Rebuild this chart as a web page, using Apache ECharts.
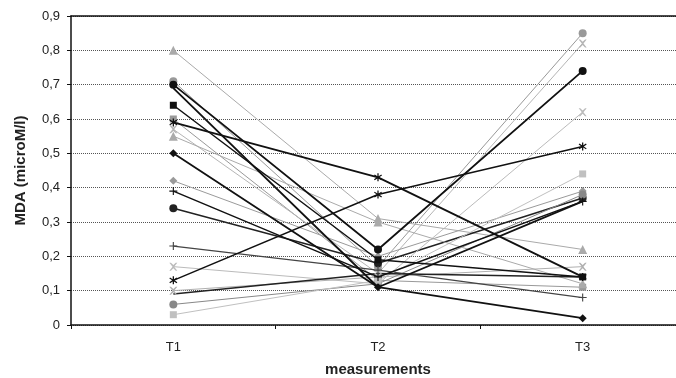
<!DOCTYPE html>
<html><head><meta charset="utf-8">
<script src="https://cdn.jsdelivr.net/npm/echarts@6/dist/echarts.min.js"></script>
<style>html,body{margin:0;padding:0;background:#fff}#c{width:676px;height:378px}</style>
</head><body><div id="c"></div>
<script>
const categories = ['T1', 'T2', 'T3'];
const yTicks = ['0', '0,1', '0,2', '0,3', '0,4', '0,5', '0,6', '0,7', '0,8', '0,9'];
const s01 = [0.80, 0.31, 0.22];
const s02 = [0.71, 0.17, 0.85];
const s03 = [0.70, 0.22, 0.74];
const s04 = [0.64, 0.19, 0.14];
const s05 = [0.60, 0.13, 0.11];
const s06 = [0.59, 0.43, 0.14];
const s07 = [0.57, 0.15, 0.82];
const s08 = [0.50, 0.11, 0.02];
const s09 = [0.42, 0.20, 0.39];
const s10 = [0.39, 0.14, 0.36];
const s11 = [0.34, 0.18, 0.37];
const s12 = [0.23, 0.16, 0.08];
const s13 = [0.17, 0.12, 0.62];
const s14 = [0.13, 0.38, 0.52];
const s15 = [0.10, 0.14, 0.17];
const s16 = [0.06, 0.12, 0.38];
const s17 = [0.03, 0.13, 0.44];
const s18 = [0.55, 0.30, 0.12];
const s19 = [0.09, 0.15, 0.14];
const s20 = [0.69, 0.11, 0.36];

const defs = [
  [s01, '#aaaaaa', 'triangle', 1],
  [s02, '#999999', 'circle', 1],
  [s03, '#111111', 'circle', 1.8],
  [s04, '#111111', 'rect', 1.5],
  [s05, '#999999', 'rect', 1],
  [s06, '#111111', 'star', 1.8],
  [s07, '#b5b5b5', 'x', 1],
  [s08, '#111111', 'diamond', 1.8],
  [s09, '#9a9a9a', 'diamond', 1],
  [s10, '#111111', 'plus', 1.5],
  [s11, '#222222', 'circle', 1.5],
  [s12, '#444444', 'plus', 1.2],
  [s13, '#bbbbbb', 'x', 1],
  [s14, '#111111', 'star', 1.5],
  [s15, '#b0b0b0', 'x', 1],
  [s16, '#888888', 'circle', 1],
  [s17, '#c0c0c0', 'rect', 1],
  [s18, '#aaaaaa', 'triangle', 1],
  [s19, '#222222', 'none', 1.5],
  [s20, '#111111', 'none', 1.8]
];

const paths = {
  x: 'path://M0,0L2,0L5,3L8,0L10,0L6,5L10,10L8,10L5,7L2,10L0,10L4,5Z',
  plus: 'path://M4.3,0H5.7V4.3H10V5.7H5.7V10H4.3V5.7H0V4.3H4.3Z',
  star: 'path://M4.3,0H5.7V3.6L8.6,1.4L9.4,2.6L6.3,5L9.4,7.4L8.6,8.6L5.7,6.4V10H4.3V6.4L1.4,8.6L0.6,7.4L3.7,5L0.6,2.6L1.4,1.4L4.3,3.6Z'
};

const series = defs.map((d, i) => ({
  type: 'line',
  data: d[0],
  symbol: paths[d[2]] || d[2],
  symbolSize: d[2] === 'rect' ? 7 : (d[2] === 'triangle' ? 9 : 8),
  showSymbol: d[2] !== 'none',
  lineStyle: { color: d[1], width: d[3] },
  itemStyle: { color: d[1], borderWidth: 0 },
  z: 2 + (d[1] === '#111111' ? 1 : 0),
  animation: false
}));

const chart = echarts.init(document.getElementById('c'));
chart.setOption({
  backgroundColor: '#ffffff',
  animation: false,
  grid: { left: 71, top: 16, width: 614, height: 309, containLabel: false, outerBoundsMode: 'none' },
  xAxis: [{
    type: 'category', data: categories, boundaryGap: true,
    axisLine: { lineStyle: { color: '#111', width: 1.5 } },
    axisTick: { show: true, length: 4, lineStyle: { color: '#111' } },
    axisLabel: { color: '#222', fontFamily: 'Liberation Sans', fontSize: 13, margin: 16 },
    name: 'measurements', nameLocation: 'middle', nameGap: 37,
    nameTextStyle: { color: '#222', fontFamily: 'Liberation Sans', fontSize: 15, fontWeight: 'bold' }
  }, {
    type: 'category', data: categories, position: 'top', boundaryGap: true,
    axisLine: { show: true, lineStyle: { color: '#111', width: 1.5 } },
    axisTick: { show: false }, axisLabel: { show: false }
  }],
  yAxis: {
    type: 'value', min: 0, max: 0.9, interval: 0.1,
    axisLine: { show: true, lineStyle: { color: '#111', width: 1.5 } },
    axisTick: { show: true, length: 4, lineStyle: { color: '#111' } },
    axisLabel: {
      color: '#222', fontFamily: 'Liberation Sans', fontSize: 13, margin: 11,
      formatter: v => yTicks[Math.round(v * 10)]
    },
    splitLine: { show: true, lineStyle: { color: '#555', type: 'dotted', width: 1 } },
    name: 'MDA (microM/l)', nameLocation: 'middle', nameGap: 43, nameRotate: 90,
    nameTextStyle: { color: '#222', fontFamily: 'Liberation Sans', fontSize: 15, fontWeight: 'bold' }
  },
  series: series
});
</script></body></html>
